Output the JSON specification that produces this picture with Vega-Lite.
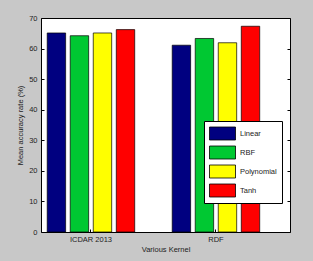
{
  "$schema": "https://vega.github.io/schema/vega-lite/v6.json",
  "autosize": {"type": "none"},
  "width": 249,
  "height": 214,
  "padding": {"left": 41, "top": 18, "right": 23, "bottom": 29},
  "background": "#c8c8c8",
  "config": {
    "view": {"fill": "white", "stroke": "black", "strokeWidth": 1},
    "font": "Liberation Sans"
  },
  "data": {
    "values": [
      {"dataset": "ICDAR 2013", "kernel": "Linear", "rate": 65.1},
      {"dataset": "ICDAR 2013", "kernel": "RBF", "rate": 64.2},
      {"dataset": "ICDAR 2013", "kernel": "Polynomial", "rate": 65.1},
      {"dataset": "ICDAR 2013", "kernel": "Tanh", "rate": 66.2},
      {"dataset": "RDF", "kernel": "Linear", "rate": 61.1},
      {"dataset": "RDF", "kernel": "RBF", "rate": 63.3},
      {"dataset": "RDF", "kernel": "Polynomial", "rate": 61.9},
      {"dataset": "RDF", "kernel": "Tanh", "rate": 67.3}
    ]
  },
  "layer": [
    {
      "mark": {"type": "bar", "stroke": "black", "strokeWidth": 0.7},
      "encoding": {
        "x": {
          "field": "dataset",
          "type": "nominal",
          "sort": ["ICDAR 2013", "RDF"],
          "scale": {"paddingInner": 0.3, "paddingOuter": 0.146, "align": 0.17},
          "title": "Various Kernel",
          "axis": {
            "labelAngle": 0,
            "labelFontSize": 7.5,
            "labelColor": "#222222",
            "labelPadding": 6,
            "tickSize": -3,
            "tickColor": "black",
            "domain": false,
            "titleFontSize": 7.5,
            "titleFontWeight": "normal",
            "titleColor": "#222222",
            "titlePadding": 3
          }
        },
        "xOffset": {
          "field": "kernel",
          "type": "nominal",
          "sort": ["Linear", "RBF", "Polynomial", "Tanh"],
          "scale": {"paddingInner": 0.2}
        },
        "y": {
          "field": "rate",
          "type": "quantitative",
          "scale": {"domain": [0, 70], "nice": false},
          "title": "Mean accuracy rate (%)",
          "axis": {
            "values": [0, 10, 20, 30, 40, 50, 60, 70],
            "labelFontSize": 7.5,
            "labelColor": "#222222",
            "labelPadding": 7,
            "tickSize": -3,
            "tickColor": "black",
            "domain": false,
            "grid": false,
            "titleFontSize": 7.5,
            "titleFontWeight": "normal",
            "titleColor": "#222222",
            "titlePadding": 4
          }
        },
        "color": {
          "field": "kernel",
          "type": "nominal",
          "sort": ["Linear", "RBF", "Polynomial", "Tanh"],
          "scale": {
            "domain": ["Linear", "RBF", "Polynomial", "Tanh"],
            "range": ["#000080", "#00c832", "#ffff00", "#ff0000"]
          },
          "legend": {
            "orient": "none",
            "legendX": 163,
            "legendY": 103,
            "title": null,
            "symbolType": "M-1,-0.5H1V0.5H-1Z",
            "symbolSize": 676,
            "symbolStrokeColor": "black",
            "symbolStrokeWidth": 0.8,
            "symbolOpacity": 1,
            "labelFontSize": 7.5,
            "labelColor": "#222222",
            "labelOffset": 4,
            "clipHeight": 15,
            "rowPadding": 4,
            "padding": 5,
            "strokeColor": "black",
            "fillColor": "white"
          }
        }
      }
    },
    {
      "mark": {"type": "tick", "opacity": 0},
      "encoding": {
        "y": {
          "field": "rate",
          "type": "quantitative",
          "axis": {
            "orient": "right",
            "values": [0, 10, 20, 30, 40, 50, 60, 70],
            "labels": false,
            "title": null,
            "tickSize": -3,
            "tickColor": "black",
            "domain": false,
            "grid": false
          }
        }
      }
    }
  ],
  "resolve": {"axis": {"y": "independent"}}
}
